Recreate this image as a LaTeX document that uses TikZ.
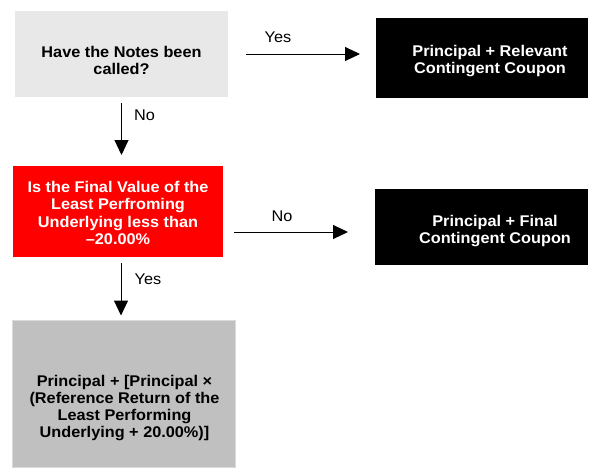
\documentclass[tikz,border=0pt]{standalone}
\usepackage{fontspec}
\setmainfont[FakeStretch=1.05]{Liberation Sans}
\usetikzlibrary{arrows.meta,calc}
\definecolor{qgray}{HTML}{E8E8E8}
\definecolor{rgray}{HTML}{C0C0C0}
\definecolor{rborder}{HTML}{DADADA}
\definecolor{qred}{HTML}{FF0000}
\begin{document}
\begin{tikzpicture}[x=1pt,y=-1pt,
  box/.style={inner sep=0pt, outer sep=0pt},
  txt/.style={font=\fontsize{15.5}{17.2}\selectfont\bfseries, align=center, inner sep=0pt},
  wtxt/.style={txt, text=white},
  lbl/.style={font=\fontsize{15.5}{17.2}\selectfont, inner sep=0pt},
  arr/.style={line width=1pt, -{Triangle[length=15pt,width=14pt]}}]
\useasboundingbox (0,0) rectangle (589,469);
% boxes
\node[box, fill=qgray, minimum width=213pt, minimum height=86pt] (q1) at (121.5,54) {};
\node[box, fill=black, minimum width=212pt, minimum height=80pt] (r1) at (482,58) {};
\node[box, fill=qred, minimum width=210pt, minimum height=91pt] (q2) at (118,211.5) {};
\node[box, fill=black, minimum width=213pt, minimum height=76pt] (r2) at (481.5,227) {};
\node[box, fill=rgray, draw=rborder, line width=1pt, minimum width=223pt, minimum height=147pt] (r3) at (124,394) {};
% texts
\node[txt] (t1) at (121.5,60.5) {Have the Notes been\\called?};
\node[wtxt] (t2) at (490,61) {Principal + Relevant\\Contingent Coupon};
\node[wtxt] (t3) at (118,213) {Is the Final Value of the\\Least Perfroming\\Underlying less than\\\char"2013 20.00\%};
\node[wtxt] (t4) at (495,231) {Principal + Final\\Contingent Coupon};
\node[txt] (t5) at (124.5,408) {Principal + [Principal \char"00D7\\(Reference Return of the\\Least Performing\\Underlying + 20.00\%)]};
% connectors
\draw[arr, shorten <=18pt, shorten >=16pt] (q1.east) -- (q1.east -| r1.west);
\node[lbl] (l1) at (278,37) {Yes};
\draw[arr, shorten <=6pt, shorten >=11pt] (q1.south) -- (q1.south |- q2.north);
\node[lbl] (l2) at (144.5,115) {No};
\coordinate (q2out) at ($(q2.east)+(0,20.5)$);
\draw[arr, shorten <=11pt, shorten >=27pt] (q2out) -- (q2out -| r2.west);
\node[lbl] (l3) at (282,216) {No};
\coordinate (q2down) at ($(q2.south)+(3,0)$);
\draw[arr, shorten <=6pt, shorten >=5pt] (q2down) -- (q2down |- r3.north);
\node[lbl] (l4) at (148,279) {Yes};
\end{tikzpicture}
\end{document}
